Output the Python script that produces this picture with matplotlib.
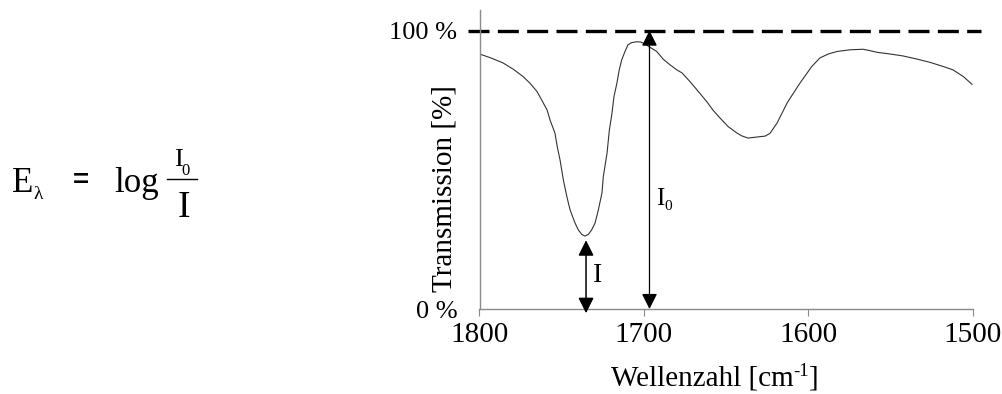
import matplotlib
matplotlib.use("Agg")
import matplotlib.pyplot as plt
from matplotlib.lines import Line2D

plt.rcParams['font.family'] = ['Liberation Serif', 'DejaVu Serif']

# IR spectrum (amide / carbonyl region)
wavenumber = [1800, 1793.6, 1785.7, 1779.4, 1773.5, 1769.3, 1765.0, 1762.2, 1758.9,
              1757.1, 1754.1, 1752.7, 1751.0, 1749.0, 1746.8, 1744.9, 1741.9, 1739.9,
              1737.8, 1735.8, 1733.8, 1731.8, 1729.7, 1727.7, 1725.5, 1724.7, 1722.4,
              1721.0, 1719.4, 1718.2, 1716.4, 1715.0, 1713.5, 1711.5, 1709.7, 1707.4,
              1704.2, 1701.9, 1699.3, 1696.3, 1692.2, 1688.2, 1684.1, 1680.0, 1676.8,
              1672.0, 1667.7, 1661.8, 1657.8, 1653.7, 1648.7, 1643.4, 1640.5, 1636.7,
              1632.4, 1626.3, 1623.3, 1619.0, 1616.2, 1612.9, 1609.1, 1607.1, 1605.0,
              1597.9, 1592.9, 1587.8, 1582.5, 1574.6, 1566.7, 1562.5, 1558.2, 1550.3,
              1542.4, 1534.1, 1526.0, 1517.9, 1512.0, 1505.7, 1500.4]
transmission = [91.6, 90.3, 88.4, 86.1, 83.5, 81.1, 78.1, 75.1, 71.5,
                67.9, 63.2, 58.3, 53.5, 46.4, 40.2, 35.6, 30.9, 28.4,
                26.8, 26.2, 26.8, 28.4, 30.9, 35.6, 41.7, 47.5, 56.1,
                64.3, 70.4, 76.3, 81.2, 85.9, 89.5, 92.5, 94.9, 95.7,
                96.0, 95.9, 95.2, 94.0, 92.5, 89.7, 87.7, 85.9, 84.8,
                81.7, 78.7, 74.5, 71.3, 68.6, 65.5, 63.2, 62.2, 61.4,
                61.7, 62.1, 63.1, 66.8, 70.1, 74.0, 77.5, 79.3, 81.2,
                87.1, 90.2, 91.6, 92.5, 93.1, 93.3, 92.8, 92.2, 91.6,
                90.9, 89.8, 88.6, 87.1, 85.9, 83.5, 80.7]

x_ticks = [1800, 1700, 1600, 1500]
y_ticks = [0, 100]
y_tick_labels = ['0 %', '100 %']

# intensity arrows: I at the band minimum, I0 up to the 100 % baseline
i_pos, i_bottom, i_top = 1735.2, -1.5, 24.7
i0_pos, i0_bottom, i0_top = 1696.6, 0.0, 100.0

W, H = 1002, 394
fig = plt.figure(figsize=(W / 100, H / 100), dpi=100)
ax = fig.add_axes([479.5 / W, 1 - 309 / H, (972.7 - 479.5) / W, (309 - 10) / H])

ax.plot(wavenumber, transmission, color='#333333', lw=0.8)

ax.set_xlim(1800, 1500)
ax.set_ylim(0, 107.4)

# 100 % reference line
ax.plot([1807, 1495], [100, 100], color='black', lw=2.4,
        dashes=(6.3, 2.5), solid_capstyle='butt', dash_capstyle='butt',
        clip_on=False)

for sp in ['top', 'right']:
    ax.spines[sp].set_visible(False)
for sp in ['left', 'bottom']:
    ax.spines[sp].set_color('#8a8a8a')
    ax.spines[sp].set_linewidth(1.0)

ax.set_xticks(x_ticks)
ax.set_xticklabels([str(t) for t in x_ticks])
ax.set_yticks(y_ticks)
ax.set_yticklabels(y_tick_labels)
ax.tick_params(axis='x', direction='out', length=5, color='#8a8a8a',
               labelsize=21, pad=4)
ax.tick_params(axis='y', length=0, labelsize=19, pad=16)
for lbl in ax.get_yticklabels():
    lbl.set_va('center_baseline')

arrow_style = '<|-|>,head_length=0.94,head_width=0.47'
ax.annotate('', xy=(i_pos, i_top), xytext=(i_pos, i_bottom),
            arrowprops=dict(arrowstyle=arrow_style, mutation_scale=10,
                            color='black', lw=1.1, shrinkA=0, shrinkB=0),
            annotation_clip=False)
ax.annotate('', xy=(i0_pos, i0_top), xytext=(i0_pos, i0_bottom),
            arrowprops=dict(arrowstyle=arrow_style, mutation_scale=10,
                            color='black', lw=0.9, shrinkA=0, shrinkB=0),
            annotation_clip=False)


def px(x, y):
    return x / W, 1 - y / H


# arrow labels
fig.text(*px(598, 282), 'I', fontsize=20, ha='center', va='baseline')
fig.text(*px(660, 205), 'I', fontsize=18, ha='center', va='baseline')
fig.text(*px(668, 210), '0', fontsize=11, ha='center', va='baseline')

# axis titles
fig.text(*px(444, 189), 'Transmission [%]', fontsize=21, rotation=90,
         ha='center', va='center')

# x title with a raised "-1" exponent, laid out piece by piece
renderer = fig.canvas.get_renderer()
parts = [('Wellenzahl [cm', 21, 0), ('-1', 13.5, 10), (']', 21, 0)]
pieces = []
for s, size, rise in parts:
    t = fig.text(0, 0, s, fontsize=size, ha='left', va='baseline')
    pieces.append((t, rise))
widths = [t.get_window_extent(renderer).width for t, _ in pieces]
x_cur = 715 - sum(widths) / 2
for (t, rise), w in zip(pieces, widths):
    t.set_position(px(x_cur, 386 - rise))
    x_cur += w

# extinction formula
fig.text(*px(12, 192), 'E', fontsize=25, ha='left', va='baseline')
fig.text(*px(33, 199), 'λ', fontsize=14, ha='left', va='baseline')
fig.text(*px(81, 181), '=', fontsize=20, fontweight='bold',
         family='Liberation Sans', ha='center', va='center')
fig.text(*px(114, 192), 'log', fontsize=25, ha='left', va='baseline')
fig.text(*px(178, 166), 'I', fontsize=19, ha='center', va='baseline')
fig.text(*px(186, 175.3), '0', fontsize=12, ha='center', va='baseline')
fig.add_artist(Line2D([167 / W, 197 / W], [1 - 179.3 / H, 1 - 179.3 / H],
                      color='black', lw=1.0, transform=fig.transFigure))
fig.text(*px(183.5, 217), 'I', fontsize=27, ha='center', va='baseline')

fig.savefig('out.png', dpi=100)
